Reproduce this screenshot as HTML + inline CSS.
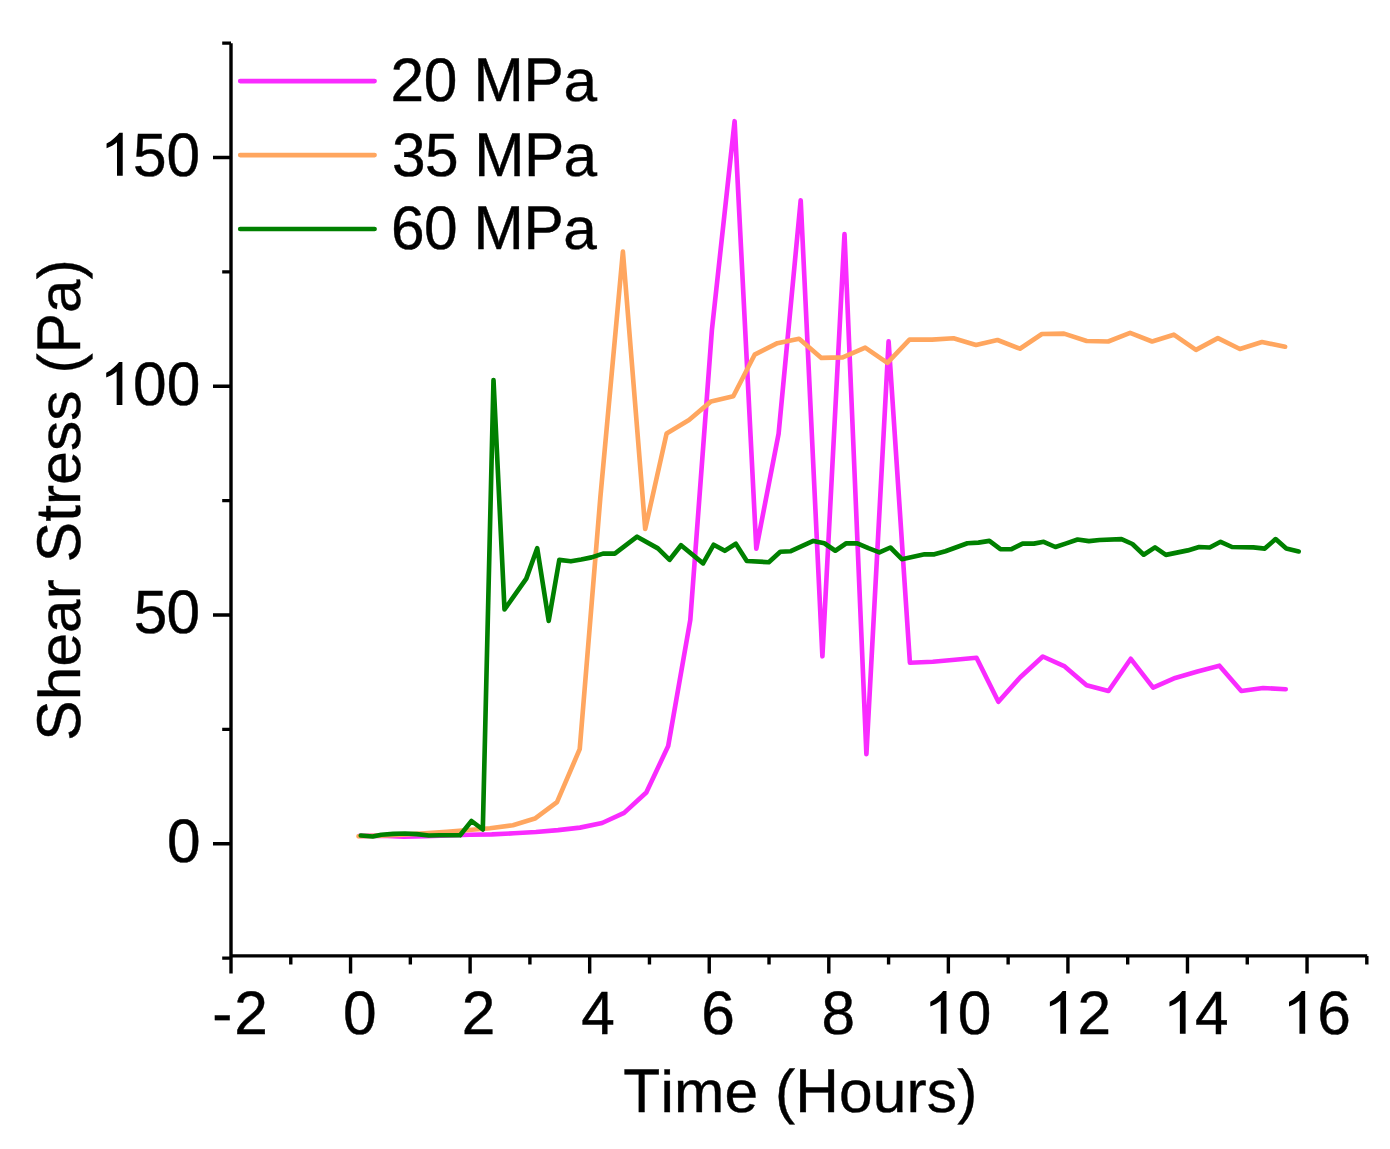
<!DOCTYPE html><html><head><meta charset="utf-8"><style>html,body{margin:0;padding:0;background:#fff;}body{width:1390px;height:1149px;overflow:hidden;}svg{display:block;}.t text{font-family:"Liberation Sans",sans-serif;font-size:60.4px;fill:#000;stroke:#000;stroke-width:0.4px;font-kerning:none;text-rendering:geometricPrecision;}.t path{fill:#000;}</style></head><body>
<svg width="1390" height="1149" viewBox="0 0 1390 1149">
<polyline points="359.5,835.9 381.6,835.7 403.6,836.6 425.7,836.2 447.7,835.4 469.8,834.7 491.8,834.4 513.9,833.3 535.9,832.0 558.0,830.1 580.0,827.6 602.1,823.0 624.1,812.9 646.3,792.5 668.2,746.0 690.3,619.8 711.9,330.0 734.6,121.2 756.3,548.7 778.6,433.7 800.7,200.3 822.4,656.3 844.5,234.1 866.4,754.2 888.6,341.4 909.9,662.7 932.8,661.7 954.9,659.7 976.5,657.8 998.4,701.8 1020.3,677.2 1042.8,656.5 1064.7,666.4 1086.6,685.2 1108.5,691.0 1130.8,658.8 1153.1,687.6 1175.2,677.9 1197.5,671.4 1219.4,665.7 1241.3,691.0 1263.1,688.0 1285.7,689.2" fill="none" stroke="#f92bff" stroke-width="4.65" stroke-linejoin="round" stroke-linecap="round"/>
<polyline points="358.5,836.3 380.6,835.6 402.6,834.6 424.7,833.4 446.7,831.9 468.8,830.0 490.0,828.2 512.9,825.2 534.9,818.6 557.0,802.1 579.7,749.2 600.3,498.0 622.9,251.6 645.2,529.0 666.6,433.6 689.0,420.0 711.0,401.4 733.3,396.3 754.6,354.7 777.4,343.2 799.1,338.8 821.4,357.9 842.7,357.4 865.2,347.6 887.4,362.8 909.5,339.6 932.0,339.6 953.5,338.3 976.0,345.0 997.5,340.0 1019.9,348.7 1041.9,334.0 1064.0,333.6 1086.7,341.0 1108.2,341.5 1130.1,332.9 1152.1,341.5 1173.8,334.7 1196.0,349.9 1217.9,338.1 1239.9,349.0 1262.0,342.0 1285.1,346.7" fill="none" stroke="#ffa65f" stroke-width="4.65" stroke-linejoin="round" stroke-linecap="round"/>
<polyline points="360.8,835.5 372.7,836.5 381.3,834.7 393.2,833.9 405.0,833.5 416.9,834.1 428.8,835.5 439.6,835.2 450.0,835.2 460.1,835.3 471.5,821.0 482.8,829.5 493.5,380.0 504.5,609.5 526.3,578.6 537.2,548.2 548.7,620.9 559.3,559.9 570.9,561.3 581.2,559.5 591.6,557.4 603.0,553.6 614.8,553.6 637.1,536.7 657.9,548.4 669.6,559.8 681.0,545.2 703.1,563.4 713.7,544.7 724.8,550.8 735.8,543.8 746.8,561.0 768.8,562.2 780.3,551.7 790.8,551.2 813.3,540.9 824.3,543.3 835.3,550.7 846.3,543.3 857.3,543.3 868.4,548.2 879.4,552.4 890.4,547.5 901.9,559.2 924.6,554.3 934.4,554.3 945.4,551.2 967.4,543.3 978.4,542.6 989.4,540.9 1000.4,549.2 1011.5,549.2 1022.6,543.6 1033.9,543.6 1043.7,541.8 1055.4,547.0 1066.3,543.4 1077.6,539.5 1088.9,541.1 1099.6,540.0 1121.5,539.1 1132.4,544.0 1143.7,554.7 1155.0,547.4 1165.9,554.9 1187.8,550.4 1199.1,547.0 1209.7,547.5 1220.6,541.8 1232.0,547.0 1253.4,547.4 1264.8,548.6 1275.6,539.1 1286.3,548.6 1298.7,551.5" fill="none" stroke="#008000" stroke-width="4.65" stroke-linejoin="round" stroke-linecap="round"/>
<path d="M231.0,43.2V973.5M231.0,955.9H1367.2M213,843.80H231.0M213,615.05H231.0M213,386.30H231.0M213,157.55H231.0M222.2,958.17H231.0M222.2,729.42H231.0M222.2,500.67H231.0M222.2,271.92H231.0M222.2,43.17H231.0M231.00,955.9V973.5M350.56,955.9V973.5M470.12,955.9V973.5M589.68,955.9V973.5M709.24,955.9V973.5M828.80,955.9V973.5M948.36,955.9V973.5M1067.92,955.9V973.5M1187.48,955.9V973.5M1307.04,955.9V973.5M290.78,955.9V964.6M410.34,955.9V964.6M529.90,955.9V964.6M649.46,955.9V964.6M769.02,955.9V964.6M888.58,955.9V964.6M1008.14,955.9V964.6M1127.70,955.9V964.6M1247.26,955.9V964.6M1366.82,955.9V964.6" fill="none" stroke="#000" stroke-width="3.4" stroke-linecap="butt"/>
<line x1="240.2" y1="81.05" x2="374.6" y2="81.05" stroke="#f92bff" stroke-width="4.65" stroke-linecap="round"/>
<line x1="240.2" y1="155.05" x2="374.6" y2="155.05" stroke="#ffa65f" stroke-width="4.65" stroke-linecap="round"/>
<line x1="240.2" y1="229.0" x2="374.6" y2="229.0" stroke="#008000" stroke-width="4.65" stroke-linecap="round"/>
<g class="t">
<text transform="translate(132.91,175.73) scale(1,1.013)">5</text><text transform="translate(166.51,175.73) scale(1,1.013)">0</text>
<text transform="translate(133.05,404.73) scale(1,1.013)">0</text><text transform="translate(166.64,404.73) scale(1,1.013)">0</text>
<text transform="translate(133.65,632.83) scale(1,1.013)">5</text><text transform="translate(166.58,632.83) scale(1,1.013)">0</text>
<text transform="translate(166.95,861.73) scale(1,1.013)">0</text>
<text transform="translate(212.32,1033.53) scale(1,1.013)">-</text><text transform="translate(234.15,1033.53) scale(1,1.013)">2</text>
<text transform="translate(343.12,1033.53) scale(1,1.013)">0</text>
<text transform="translate(461.63,1033.53) scale(1,1.013)">2</text>
<text transform="translate(581.37,1033.53) scale(1,1.013)">4</text>
<text transform="translate(701.18,1033.53) scale(1,1.013)">6</text>
<text transform="translate(821.51,1033.53) scale(1,1.013)">8</text>
<text transform="translate(957.64,1033.53) scale(1,1.013)">0</text>
<text transform="translate(1077.61,1033.53) scale(1,1.013)">2</text>
<text transform="translate(1195.08,1033.53) scale(1,1.013)">4</text>
<text transform="translate(1317.29,1033.53) scale(1,1.013)">6</text>
<text transform="translate(623.36,1111.83) scale(1,1.021)">T</text><text transform="translate(660.40,1111.83) scale(1,0.973)">i</text><text transform="translate(673.96,1111.83) scale(1,0.974)">m</text><text transform="translate(724.42,1111.83) scale(1,0.974)">e</text><text transform="translate(775.07,1111.83) scale(1,0.993)">(</text><text transform="translate(795.33,1111.83) scale(1,1.021)">H</text><text transform="translate(839.09,1111.83) scale(1,0.974)">o</text><text transform="translate(872.82,1111.83) scale(1,0.974)">u</text><text transform="translate(906.56,1111.83) scale(1,0.974)">r</text><text transform="translate(926.81,1111.83) scale(1,0.974)">s</text><text transform="translate(957.15,1111.83) scale(1,0.993)">)</text>
<text transform="translate(80.48,740.67) rotate(-90) scale(1,1.021)">S</text><text transform="translate(80.48,700.29) rotate(-90) scale(1,0.973)">h</text><text transform="translate(80.48,666.60) rotate(-90) scale(1,0.974)">e</text><text transform="translate(80.48,632.91) rotate(-90) scale(1,0.974)">a</text><text transform="translate(80.48,599.23) rotate(-90) scale(1,0.974)">r</text><text transform="translate(80.48,562.14) rotate(-90) scale(1,1.021)">S</text><text transform="translate(80.48,521.76) rotate(-90) scale(1,1.055)">t</text><text transform="translate(80.48,504.88) rotate(-90) scale(1,0.974)">r</text><text transform="translate(80.48,484.67) rotate(-90) scale(1,0.974)">e</text><text transform="translate(80.48,450.99) rotate(-90) scale(1,0.974)">s</text><text transform="translate(80.48,420.69) rotate(-90) scale(1,0.974)">s</text><text transform="translate(80.48,373.52) rotate(-90) scale(1,0.993)">(</text><text transform="translate(80.48,353.31) rotate(-90) scale(1,1.021)">P</text><text transform="translate(80.48,312.93) rotate(-90) scale(1,0.974)">a</text><text transform="translate(80.48,279.24) rotate(-90) scale(1,0.993)">)</text>
<text transform="translate(390.60,101.23) scale(1,1.013)">2</text><text transform="translate(423.86,101.23) scale(1,1.013)">0</text><text transform="translate(473.57,101.23) scale(1,1.021)">M</text><text transform="translate(523.55,101.23) scale(1,1.021)">P</text><text transform="translate(563.51,101.23) scale(1,0.974)">a</text>
<text transform="translate(392.02,175.93) scale(1,1.013)">3</text><text transform="translate(425.01,175.93) scale(1,1.013)">5</text><text transform="translate(474.20,175.93) scale(1,1.021)">M</text><text transform="translate(523.92,175.93) scale(1,1.021)">P</text><text transform="translate(563.61,175.93) scale(1,0.974)">a</text>
<text transform="translate(390.91,249.43) scale(1,1.013)">6</text><text transform="translate(424.07,249.43) scale(1,1.013)">0</text><text transform="translate(473.59,249.43) scale(1,1.021)">M</text><text transform="translate(523.48,249.43) scale(1,1.021)">P</text><text transform="translate(563.34,249.43) scale(1,0.974)">a</text>
<path transform="translate(122.73,175.65)" d="M0,0V-42.85H-3.38C-6.0,-39.5 -10.5,-34.8 -16.17,-32.11V-27.41C-12.5,-28.8 -8.3,-30.9 -5.73,-33.42V0Z"/>
<path transform="translate(122.39,404.9)" d="M0,0V-42.85H-3.38C-6.0,-39.5 -10.5,-34.8 -16.17,-32.11V-27.41C-12.5,-28.8 -8.3,-30.9 -5.73,-33.42V0Z"/>
<path transform="translate(946.50,1033.8)" d="M0,0V-42.85H-3.38C-6.0,-39.5 -10.5,-34.8 -16.17,-32.11V-27.41C-12.5,-28.8 -8.3,-30.9 -5.73,-33.42V0Z"/>
<path transform="translate(1066.06,1033.8)" d="M0,0V-42.85H-3.38C-6.0,-39.5 -10.5,-34.8 -16.17,-32.11V-27.41C-12.5,-28.8 -8.3,-30.9 -5.73,-33.42V0Z"/>
<path transform="translate(1185.62,1033.8)" d="M0,0V-42.85H-3.38C-6.0,-39.5 -10.5,-34.8 -16.17,-32.11V-27.41C-12.5,-28.8 -8.3,-30.9 -5.73,-33.42V0Z"/>
<path transform="translate(1305.18,1033.8)" d="M0,0V-42.85H-3.38C-6.0,-39.5 -10.5,-34.8 -16.17,-32.11V-27.41C-12.5,-28.8 -8.3,-30.9 -5.73,-33.42V0Z"/>
</g>
</svg></body></html>
